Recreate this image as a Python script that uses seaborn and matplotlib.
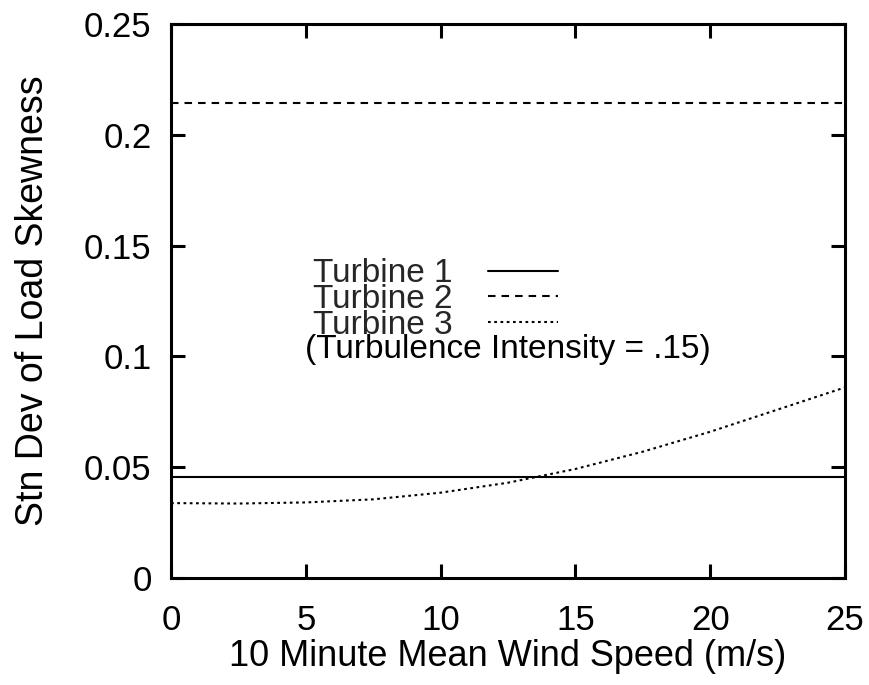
import matplotlib
matplotlib.use("Agg")
import matplotlib.pyplot as plt
import seaborn as sns
import pandas as pd

# ---- data ----
wind_speed = [0, 2.5, 5, 7.5, 10, 12.5, 15, 17.5, 20, 22.5, 25]
turbine1 = [0.0458, 0.0458, 0.0458, 0.0458, 0.0458, 0.0458, 0.0458, 0.0458, 0.0458, 0.0458, 0.0458]
turbine2 = [0.2145, 0.2145, 0.2145, 0.2145, 0.2145, 0.2145, 0.2145, 0.2145, 0.2145, 0.2145, 0.2145]
turbine3 = [0.0338, 0.0336, 0.0341, 0.0355, 0.0385, 0.0430, 0.0492, 0.0570, 0.0660, 0.0760, 0.0860]
series_names = ["Turbine 1", "Turbine 2", "Turbine 3"]
note_text = "(Turbulence Intensity = .15)"
x_ticks = [0, 5, 10, 15, 20, 25]
y_ticks = [0, 0.05, 0.1, 0.15, 0.2, 0.25]
y_tick_labels = ["0", "0.05", "0.1", "0.15", "0.2", "0.25"]
x_label = "10 Minute Mean Wind Speed (m/s)"
y_label = "Stn Dev of Load Skewness"

df = pd.DataFrame({
    "x": wind_speed * 3,
    "y": turbine1 + turbine2 + turbine3,
    "series": sum([[n] * len(wind_speed) for n in series_names], []),
})

sns.set_theme(style="white")
plt.rcParams["font.family"] = ["Liberation Sans", "DejaVu Sans"]

fig = plt.figure(figsize=(8.7, 6.85), dpi=100)
ax = fig.add_axes([0.1966, 0.1562, 0.7747, 0.8088])

dash_styles = {"Turbine 1": None,
               "Turbine 2": (3.6, 2.9),
               "Turbine 3": (1.3, 1.7)}
lines = []
for name in series_names:
    sub = df[df["series"] == name]
    sns.lineplot(data=sub, x="x", y="y", ax=ax, color="black", lw=1.5,
                 legend=False)
    ln = ax.get_lines()[-1]
    if dash_styles[name] is not None:
        ln.set_dashes(dash_styles[name])
    lines.append(ln)

ax.set_xlim(0, 25)
ax.set_ylim(0, 0.25)
ax.set_xticks(x_ticks)
ax.set_xticklabels([str(t) for t in x_ticks])
ax.set_yticks(y_ticks)
ax.set_yticklabels(y_tick_labels)
ax.tick_params(direction="in", top=True, right=True, bottom=True, left=True,
               length=10, width=2.2, labelsize=25, colors="black")
ax.tick_params(axis="x", pad=19)
ax.tick_params(axis="y", pad=14)
for sp in ax.spines.values():
    sp.set_linewidth(2.2)
    sp.set_color("black")
    sp.set_visible(True)

ax.set_xlabel(x_label, fontsize=26, labelpad=1, color="black")
ax.set_ylabel(y_label, fontsize=27, labelpad=24, color="black")

leg = ax.legend(handles=lines, labels=series_names, loc="upper left",
                bbox_to_anchor=(0.211, 0.577), frameon=False, markerfirst=False,
                fontsize=24, handlelength=2.1, handletextpad=1.05,
                labelspacing=-0.16, borderpad=0, borderaxespad=0)
ax.text(0.199, 0.4116, note_text, transform=ax.transAxes, fontsize=24,
        ha="left", va="center", color="black")

fig.savefig("out.png", dpi=100, facecolor="white")
